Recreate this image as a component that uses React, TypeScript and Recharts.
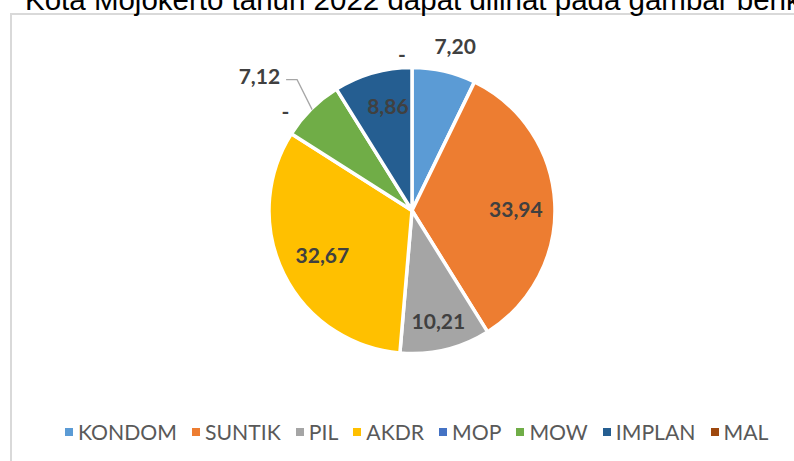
import React from 'react';
import { PieChart, Pie, Cell, Legend } from 'recharts';

const categories = ['KONDOM', 'SUNTIK', 'PIL', 'AKDR', 'MOP', 'MOW', 'IMPLAN', 'MAL'];
const values = [7.2, 33.94, 10.21, 32.67, 0, 7.12, 8.86, 0];
const colors = ['#5B9BD5', '#ED7D31', '#A5A5A5', '#FFC000', '#4472C4', '#70AD47', '#255E91', '#9E480E'];
const titleText = 'Kota Mojokerto tahun 2022 dapat dilihat pada gambar berikut';

const data = categories.map((name, i) => ({ name, value: values[i] }));

const fmt = (v: number) => (v === 0 ? '-' : v.toFixed(2).replace('.', ','));

// label placement style (radius from centre, then pixel nudges)
const placement = [
  { r: 170, dx: 5, dy: 1 },
  { r: 104, dx: 0, dy: 3 },
  { r: 113, dx: 0, dy: 0 },
  { r: 100, dx: 0, dy: 0 },
  { r: 143, dx: -6, dy: -23 },
  { r: 143, dx: 0, dy: 0, leader: true },
  { r: 106, dx: 5, dy: -3 },
  { r: 157, dx: -10, dy: 0 },
];

const RAD = Math.PI / 180;
const polar = (cx: number, cy: number, r: number, a: number) => ({
  x: cx + r * Math.cos(-a * RAD),
  y: cy + r * Math.sin(-a * RAD),
});

const labelStyle = {
  fontFamily: 'Lato, "Open Sans", sans-serif',
  fontWeight: 700,
  fontSize: 21,
  fill: '#404040',
};

const renderLabel = (props: any) => {
  const { cx, cy, midAngle, outerRadius, index, value } = props;
  const p = placement[index];
  const text = fmt(value);
  if (p.leader) {
    const s = polar(cx, cy, outerRadius - 1, midAngle);
    const e = { x: s.x - 15, y: s.y - 30 };
    const t = { x: e.x - 11, y: e.y };
    return (
      <g key={`l-${index}`}>
        <polyline
          points={`${s.x},${s.y} ${e.x},${e.y} ${t.x},${t.y}`}
          fill="none"
          stroke="#A6A6A6"
          strokeWidth={1.3}
        />
        <text x={t.x - 6} y={t.y - 4} textAnchor="end" dominantBaseline="central" style={labelStyle}>
          {text}
        </text>
      </g>
    );
  }
  const q = polar(cx, cy, p.r, midAngle);
  return (
    <text
      key={`l-${index}`}
      x={q.x + p.dx}
      y={q.y + p.dy}
      textAnchor="middle"
      dominantBaseline="central"
      style={labelStyle}
    >
      {text}
    </text>
  );
};

const renderLegend = () => (
  <div
    style={{
      display: 'flex',
      alignItems: 'center',
      paddingLeft: 65,
      fontFamily: 'Lato, "Open Sans", sans-serif',
      fontSize: 21.2,
      color: '#595959',
      whiteSpace: 'nowrap',
    }}
  >
    {categories.map((c, i) => (
      <div key={c} style={{ display: 'flex', alignItems: 'center', marginRight: 15 }}>
        <span style={{ width: 8, height: 8, background: colors[i], marginRight: 5, display: 'inline-block' }} />
        <span>{c}</span>
      </div>
    ))}
  </div>
);

export default function App() {
  return (
    <div
      style={{
        position: 'absolute',
        left: 0,
        top: 0,
        width: 794,
        height: 461,
        overflow: 'hidden',
        background: '#ffffff',
      }}
    >
      <div
        style={{
          position: 'absolute',
          left: 10,
          top: 13,
          width: 1000,
          height: 800,
          borderLeft: '2px solid #D9D9D9',
          borderTop: '2px solid #D9D9D9',
        }}
      />
      <svg width={794} height={40} style={{ position: 'absolute', left: 0, top: 0 }}>
        <text x={25} y={10} style={{ fontFamily: '"Liberation Sans", Arial, sans-serif', fontSize: 29.5, fill: '#000' }}>
          {titleText}
        </text>
      </svg>
      <div style={{ position: 'absolute', left: 0, top: 0 }}>
        <PieChart width={794} height={461} margin={{ top: 0, right: 0, bottom: 0, left: 0 }}>
          <Pie
            data={data}
            dataKey="value"
            nameKey="name"
            cx={412}
            cy={210.5}
            outerRadius={143}
            startAngle={90}
            endAngle={-270}
            stroke="#ffffff"
            strokeWidth={3.5}
            label={renderLabel}
            labelLine={false}
            isAnimationActive={false}
          >
            {data.map((d, i) => (
              <Cell key={d.name} fill={colors[i]} />
            ))}
          </Pie>
          <Legend
            content={renderLegend}
            wrapperStyle={{ position: 'absolute', top: 419, left: 0, width: 794 }}
          />
        </PieChart>
      </div>
    </div>
  );
}
